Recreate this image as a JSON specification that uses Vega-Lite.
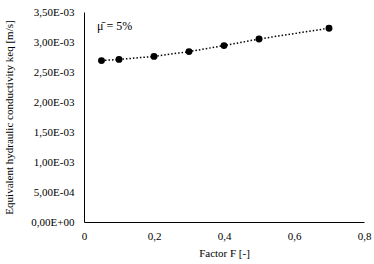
{
  "$schema": "https://vega.github.io/schema/vega-lite/v6.json",
  "autosize": "none",
  "width": 280,
  "height": 210,
  "padding": {"left": 84, "top": 12, "right": 10, "bottom": 42},
  "background": "white",
  "config": {
    "view": {"stroke": null}
  },
  "datasets": {
    "pts": [
      {"F": 0.05, "k": 0.00269},
      {"F": 0.1, "k": 0.00271},
      {"F": 0.2, "k": 0.00276},
      {"F": 0.3, "k": 0.00284},
      {"F": 0.4, "k": 0.00294},
      {"F": 0.5, "k": 0.00305},
      {"F": 0.7, "k": 0.00323}
    ],
    "note": [
      {"F": 0.037, "k": 0.00327, "label": "μ̄ =  5%"}
    ]
  },
  "layer": [
    {
      "data": {"name": "pts"},
      "mark": {"type": "line", "color": "#000", "strokeWidth": 1.5, "strokeDash": [1.5, 2]},
      "encoding": {
        "x": {
          "field": "F", "type": "quantitative",
          "scale": {"domain": [0, 0.8], "nice": false},
          "axis": {
            "title": "Factor F [-]",
            "values": [0, 0.2, 0.4, 0.6, 0.8],
            "labelExpr": "replace(format(datum.value, '.1~f'), '.', ',')",
            "labelPadding": 8,
            "titlePadding": 6,
            "labelFont": "Times New Roman",
            "titleFont": "Times New Roman",
            "labelFontSize": 11,
            "titleFontSize": 11,
            "titleFontWeight": "normal",
            "labelColor": "#000",
            "titleColor": "#000",
            "domainColor": "#000",
            "grid": false,
            "ticks": false,
            "labelOverlap": false,
            "labelFlush": false,
            "labelBound": false
          }
        },
        "y": {
          "field": "k", "type": "quantitative",
          "scale": {"domain": [0, 0.0035], "nice": false},
          "axis": {
            "title": "Equivalent hydraulic conductivity keq [m/s]",
            "tickCount": 7,
            "labelExpr": "datum.value == 0 ? '0,00E+00' : datum.value < 0.00099 ? replace(format(datum.value * 10000, '.2f'), '.', ',') + 'E-04' : replace(format(datum.value * 1000, '.2f'), '.', ',') + 'E-03'",
            "labelPadding": 10,
            "titleX": -70,
            "labelFont": "Times New Roman",
            "titleFont": "Times New Roman",
            "labelFontSize": 11,
            "titleFontSize": 11,
            "titleFontWeight": "normal",
            "labelColor": "#000",
            "titleColor": "#000",
            "domainColor": "#000",
            "grid": false,
            "ticks": false,
            "labelOverlap": false,
            "labelFlush": false,
            "labelBound": false
          }
        }
      }
    },
    {
      "data": {"name": "pts"},
      "mark": {"type": "circle", "color": "#000", "opacity": 1, "size": 48},
      "encoding": {
        "x": {"field": "F", "type": "quantitative"},
        "y": {"field": "k", "type": "quantitative"}
      }
    },
    {
      "data": {"name": "note"},
      "mark": {"type": "text", "align": "left", "baseline": "middle", "fontSize": 12, "font": "Times New Roman", "color": "#000"},
      "encoding": {
        "x": {"field": "F", "type": "quantitative"},
        "y": {"field": "k", "type": "quantitative"},
        "text": {"field": "label"}
      }
    }
  ]
}
